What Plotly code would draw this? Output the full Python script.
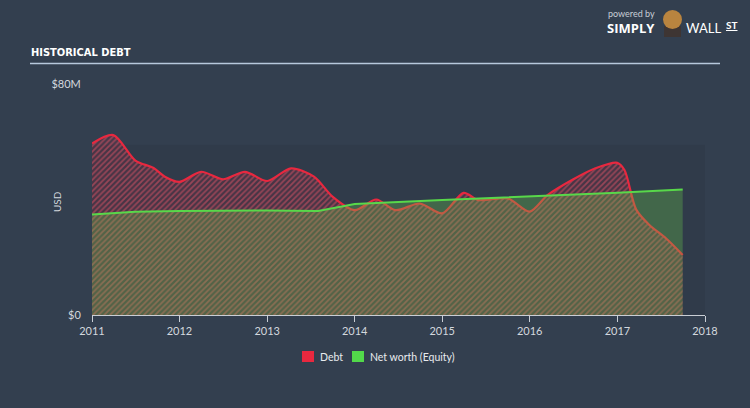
import plotly.graph_objects as go

# ---- data (USD millions) ----
debt_dates = ["2011-01-01", "2011-03-31", "2011-07-01", "2011-09-15", "2011-11-01",
              "2012-01-01", "2012-03-31", "2012-07-01", "2012-09-30",
              "2013-01-01", "2013-04-10", "2013-07-15", "2013-09-30",
              "2014-01-01", "2014-04-01", "2014-06-20", "2014-09-30",
              "2015-01-01", "2015-03-31", "2015-06-01", "2015-10-01",
              "2016-01-01", "2016-03-15", "2016-07-01", "2016-10-01", "2016-12-31",
              "2017-01-30", "2017-03-20", "2017-05-15", "2017-07-23", "2017-09-30"]
debt_values = [59.4, 62.3, 53.5, 50.9, 47.9,
               46.1, 49.6, 47.0, 49.6,
               46.4, 50.8, 47.9, 41.0,
               36.3, 40.0, 36.3, 38.6,
               35.2, 42.3, 39.8, 40.4,
               35.8, 41.5, 47.0, 50.8, 52.7,
               50.2, 36.5, 31.1, 26.5, 20.8]

equity_dates = ["2011-01-01", "2011-07-01", "2012-01-01", "2013-01-01", "2013-08-01",
                "2013-12-01", "2014-01-01", "2015-01-01", "2016-01-01", "2017-01-01",
                "2017-09-30"]
equity_values = [34.8, 35.8, 36.0, 36.2, 36.0,
                 37.8, 38.4, 39.8, 41.0, 42.3,
                 43.5]

year_ticks = ["2011-01-01", "2012-01-01", "2013-01-01", "2014-01-01",
              "2015-01-01", "2016-01-01", "2017-01-01", "2018-01-01"]
year_labels = ["2011", "2012", "2013", "2014", "2015", "2016", "2017", "2018"]
y_ticks = [0, 80]
y_labels = ["$0", "$80M"]

series_names = ["Debt", "Net worth (Equity)"]
series_colors = ["#e8283f", "#52d94a"]

BG = "#333f4f"
TXT = "#d3d8de"
FONT = "Lato"

fig = go.Figure()

# Debt area (hatched red)
fig.add_trace(go.Scatter(
    x=debt_dates, y=debt_values, mode="lines", name=series_names[0],
    line=dict(color=series_colors[0], width=2.2, shape="spline", smoothing=0.8),
    fill="tozeroy", fillcolor="rgba(115,40,60,0.35)",
    fillpattern=dict(shape="/", fgcolor="rgba(230,85,105,1)",
                     bgcolor="rgba(115,40,60,0.35)", size=4, solidity=0.45),
    showlegend=False, hoverinfo="skip"))

# Net worth area (green)
fig.add_trace(go.Scatter(
    x=equity_dates, y=equity_values, mode="lines", name=series_names[1],
    line=dict(color="#58d84a", width=2),
    fill="tozeroy", fillcolor="rgba(110,205,75,0.30)",
    showlegend=False, hoverinfo="skip"))

def px2x(px):
    return (px - 92) / 613.0

def px2y(py):
    return (315 - py) / 231.0

shapes = [
    # subtle plot band
    dict(type="rect", xref="x", yref="y", x0="2011-01-01", x1="2018-01-01", y0=0, y1=59,
         fillcolor="rgba(0,0,0,0.06)", line=dict(width=0), layer="below"),
    # title underline
    dict(type="line", xref="paper", yref="paper", x0=px2x(30), x1=px2x(720),
         y0=px2y(63.5), y1=px2y(63.5), line=dict(color="#b7c8dc", width=1.5)),
    # logo mascot
    dict(type="rect", xref="paper", yref="paper", x0=px2x(664), x1=px2x(681),
         y0=px2y(37), y1=px2y(26), fillcolor="#3e3533", line=dict(width=0)),
    dict(type="circle", xref="paper", yref="paper", x0=px2x(663), x1=px2x(682),
         y0=px2y(29), y1=px2y(10), fillcolor="#b9843f", line=dict(width=0)),
]

# legend (manual, to match spacing)
legend_sq_x = [302, 352]
legend_txt_x = [318, 368]
for i in range(2):
    shapes.append(dict(type="rect", xref="paper", yref="paper",
                       x0=px2x(legend_sq_x[i]), x1=px2x(legend_sq_x[i] + 12),
                       y0=px2y(362), y1=px2y(351),
                       fillcolor=series_colors[i], line=dict(width=0)))

annotations = [
    dict(text="<b>HISTORICAL DEBT</b>", xref="paper", yref="paper", x=px2x(29), y=px2y(52),
         xanchor="left", yanchor="middle", showarrow=False,
         font=dict(family="Liberation Sans Narrow, DejaVu Sans Condensed", size=11, color="#ffffff")),
    dict(text="USD", xref="paper", yref="paper", x=px2x(57), y=px2y(202), textangle=-90,
         xanchor="center", yanchor="middle", showarrow=False,
         font=dict(family=FONT, size=10, color=TXT)),
    dict(text="powered by", xref="paper", yref="paper", x=px2x(606), y=px2y(13),
         xanchor="left", yanchor="middle", showarrow=False,
         font=dict(family=FONT, size=9, color="#c8ced6")),
    dict(text="<b>SIMPLY</b>", xref="paper", yref="paper", x=px2x(605), y=px2y(28),
         xanchor="left", yanchor="middle", showarrow=False,
         font=dict(family="Open Sans", size=13, color="#ffffff")),
    dict(text="WALL", xref="paper", yref="paper", x=px2x(684), y=px2y(28),
         xanchor="left", yanchor="middle", showarrow=False,
         font=dict(family=FONT, size=13, color="#ffffff")),
    dict(text="<u><b>ST</b></u>", xref="paper", yref="paper", x=px2x(724), y=px2y(25),
         xanchor="left", yanchor="middle", showarrow=False,
         font=dict(family=FONT, size=10, color="#ffffff")),
]
for i in range(2):
    annotations.append(dict(text=series_names[i], xref="paper", yref="paper",
                            x=px2x(legend_txt_x[i]), y=px2y(357),
                            xanchor="left", yanchor="middle", showarrow=False,
                            font=dict(family=FONT, size=10.5, color="#e8ebee")))

fig.update_layout(
    width=750, height=408,
    margin=dict(l=92, r=45, t=84, b=93),
    paper_bgcolor=BG, plot_bgcolor=BG,
    font=dict(family=FONT, size=11, color=TXT),
    shapes=shapes, annotations=annotations,
    showlegend=False,
    xaxis=dict(type="date", range=["2011-01-01", "2018-01-01"],
               tickvals=year_ticks, ticktext=year_labels,
               showgrid=False, zeroline=False,
               showline=True, linecolor="#c9ced5", linewidth=1,
               ticks="outside", ticklen=6, tickcolor="#c9ced5", tickwidth=1,
               tickfont=dict(family=FONT, size=11, color=TXT)),
    yaxis=dict(range=[0, 80], tickvals=y_ticks, ticktext=y_labels,
               showgrid=False, zeroline=False, showline=False,
               ticks="outside", ticklen=8, tickcolor="rgba(0,0,0,0)",
               tickfont=dict(family=FONT, size=11, color=TXT)),
)

fig.write_html("out.html")
